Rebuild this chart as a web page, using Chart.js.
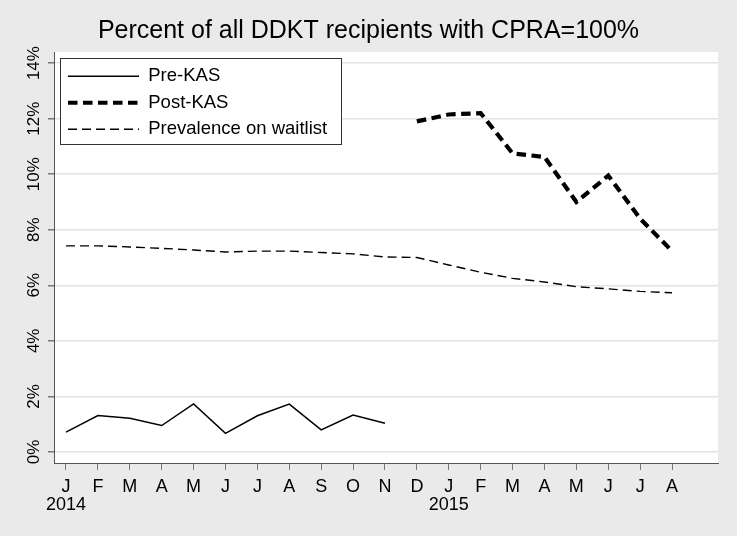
<!DOCTYPE html>
<html><head><meta charset="utf-8">
<script src="https://cdn.jsdelivr.net/npm/chart.js@4/dist/chart.umd.min.js"></script>
<style>html,body{margin:0;padding:0;background:#eaeaea;}#wrap{width:737px;height:536px;}</style>
</head><body><div id="wrap"><canvas id="c" width="737" height="536"></canvas></div>
<script>
// ---- data ----
const monthLabels = ['J','F','M','A','M','J','J','A','S','O','N','D','J','F','M','A','M','J','J','A'];
const yearLabels  = ['2014','','','','','','','','','','','','2015','','','','','','',''];
const preKAS      = [0.71, 1.31, 1.21, 0.95, 1.73, 0.67, 1.30, 1.72, 0.79, 1.33, 1.03]; // Jan-Nov 2014
const postKAS     = [11.9, 12.15, 12.2, 10.75, 10.62, 9.0, 9.95, 8.4, 7.23];           // Dec 2014 - Aug 2015
const prevalence  = [7.42, 7.42, 7.38, 7.33, 7.27, 7.20, 7.23, 7.23, 7.18, 7.13, 7.02,
                     7.00, 6.73, 6.47, 6.25, 6.12, 5.95, 5.87, 5.78, 5.73];
const preStartIndex = 0;
const postStartIndex = 11;
const yTickValues = [0, 2, 4, 6, 8, 10, 12, 14];

const toPoints = (arr, start) => arr.map((v, i) => ({x: start + i, y: v}));

Chart.defaults.font.family = "'Liberation Sans', Arial, sans-serif";
Chart.defaults.color = '#000';

const bgPlugin = {
  id: 'bg',
  beforeDraw(chart) {
    const {ctx, chartArea: a} = chart;
    ctx.save();
    ctx.fillStyle = '#eaeaea';
    ctx.fillRect(0, 0, chart.width, chart.height);
    ctx.fillStyle = '#ffffff';
    ctx.fillRect(a.left, a.top, a.right - a.left, a.bottom - a.top);
    ctx.restore();
  }
};

const legendPlace = {
  id: 'legendPlace',
  afterLayout(chart) {
    const lg = chart.legend, a = chart.chartArea;
    if (!lg) return;
    lg.left = a.left + 6; lg.top = a.top + 7;
    lg.right = a.right; lg.bottom = a.bottom;
  },
  beforeDatasetsDraw(chart) {
    const lg = chart.legend;
    if (!lg || !lg.legendHitBoxes || !lg.legendHitBoxes.length) return;
    const hb = lg.legendHitBoxes;
    let right = 0;
    hb.forEach(h => { right = Math.max(right, h.left + h.width); });
    const last = hb[hb.length - 1];
    const x0 = Math.round(lg.left) + 0.5, y0 = Math.round(lg.top - 1) + 0.5;
    const x1 = Math.round(right + 14) + 0.5, y1 = Math.round(last.top + last.height + 5) + 0.5;
    const ctx = chart.ctx;
    ctx.save();
    ctx.fillStyle = '#fff';
    ctx.fillRect(x0, y0, x1 - x0, y1 - y0);
    ctx.strokeStyle = '#333';
    ctx.lineWidth = 1;
    ctx.setLineDash([]);
    ctx.strokeRect(x0, y0, x1 - x0, y1 - y0);
    ctx.restore();
    lg.draw();
  }
};

new Chart(document.getElementById('c'), {
  type: 'line',
  data: {
    datasets: [
      { label: 'Pre-KAS', data: toPoints(preKAS, preStartIndex), borderColor: '#000', borderWidth: 1.5,
        pointRadius: 0, fill: false, tension: 0 },
      { label: 'Post-KAS', data: toPoints(postKAS, postStartIndex), borderColor: '#000', borderWidth: 4.2,
        borderDash: [9.5, 5.5], pointRadius: 0, fill: false, tension: 0 },
      { label: 'Prevalence on waitlist', data: toPoints(prevalence, 0), borderColor: '#000', borderWidth: 1.4,
        borderDash: [9, 5], pointRadius: 0, fill: false, tension: 0 }
    ]
  },
  options: {
    responsive: false,
    animation: false,
    devicePixelRatio: 1,
    layout: { padding: 0 },
    plugins: {
      title: {
        display: true,
        text: 'Percent of all DDKT recipients with CPRA=100%',
        color: '#000',
        font: { size: 25, weight: 'normal', lineHeight: 1.2 },
        padding: { top: 16, bottom: 6 }
      },
      legend: {
        position: 'chartArea',
        align: 'start',
        labels: {
          usePointStyle: true,
          pointStyle: 'line',
          pointStyleWidth: 71,
          padding: 8,
          color: '#000',
          font: { size: 18.5 },
          generateLabels(chart) {
            const items = Chart.defaults.plugins.legend.labels.generateLabels(chart);
            items.forEach(it => {
              const ds = chart.data.datasets[it.datasetIndex];
              it.lineDash = ds.borderDash || [];
              it.lineWidth = ds.borderWidth;
              it.strokeStyle = ds.borderColor;
              it.lineCap = 'butt';
            });
            return items;
          }
        }
      },
      tooltip: { enabled: false }
    },
    scales: {
      x: {
        type: 'linear',
        min: -0.376,
        max: 20.44,
        afterBuildTicks(scale) { scale.ticks = monthLabels.map((_, i) => ({ value: i })); },
        afterFit(scale) { scale.height = 73; scale.paddingLeft = 0; scale.paddingRight = 19; },
        grid: { display: true, drawOnChartArea: false, drawTicks: true, tickLength: 7, tickColor: '#777', lineWidth: 1 },
        border: { display: true, color: '#555', width: 1 },
        ticks: {
          autoSkip: false, maxRotation: 0, minRotation: 0, padding: 8, color: '#000',
          font: { size: 18, lineHeight: 1.0 },
          callback(value) {
            const i = Math.round(value);
            return yearLabels[i] ? [monthLabels[i], yearLabels[i]] : monthLabels[i];
          }
        }
      },
      y: {
        type: 'linear',
        min: -0.4,
        max: 14.4,
        afterBuildTicks(scale) { scale.ticks = yTickValues.map(v => ({ value: v })); },
        afterFit(scale) { scale.width = 54; },
        grid: { display: true, drawOnChartArea: true, color: '#e3e3e3', lineWidth: 1.5, drawTicks: true, tickLength: 6, tickColor: '#777' },
        border: { display: true, color: '#555', width: 1 },
        ticks: {
          minRotation: 90, maxRotation: 90, crossAlign: 'center', padding: -3, color: '#000',
          font: { size: 17 },
          callback(value) { return value + '%'; }
        }
      }
    }
  },
  plugins: [bgPlugin, legendPlace]
});
</script>
</body></html>
